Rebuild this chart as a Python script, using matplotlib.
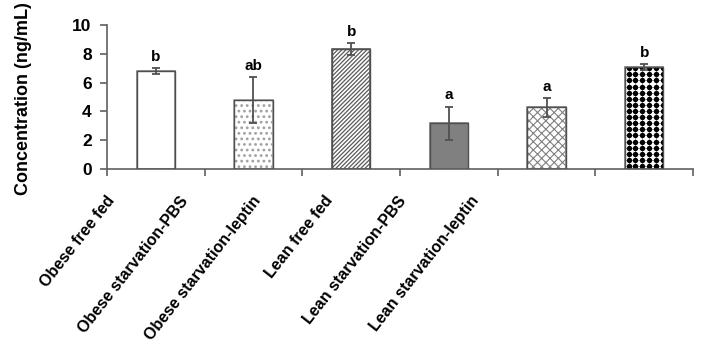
import matplotlib
matplotlib.use("Agg")
import matplotlib.pyplot as plt
import numpy as np

categories = ["Obese free fed", "Obese starvation-PBS", "Obese starvation-leptin",
              "Lean free fed", "Lean starvation-PBS", "Lean starvation-leptin"]
means = [6.83, 4.79, 8.31, 3.17, 4.28, 7.06]
errors = [0.20, 1.60, 0.42, 1.17, 0.67, 0.20]
letters = ["b", "ab", "b", "a", "a", "b"]
yticks = [0, 2, 4, 6, 8, 10]

plt.rcParams['font.family'] = ['Liberation Sans', 'DejaVu Sans']
plt.rcParams['font.weight'] = 'bold'

fig = plt.figure(figsize=(7.02, 3.56), dpi=100)
ax = fig.add_axes([107/702, 1-169/356, (693-107)/702, (169-25)/356])

styles = [
    dict(facecolor='white', edgecolor='#808080', hatch=None, hlw=1.0),
    dict(facecolor='white', edgecolor='#a0a0a0', hatch='...', hlw=1.2),
    dict(facecolor='white', edgecolor='#5a5a5a', hatch='////////', hlw=0.9),
    dict(facecolor='#808080', edgecolor='#808080', hatch=None, hlw=1.0),
    dict(facecolor='white', edgecolor='#808080', hatch='xxxx', hlw=0.8),
    dict(facecolor='white', edgecolor='#808080', hatch=None, hlw=0.5),
]

x = np.arange(len(categories))
width = 0.39
bars = []
for i, (m, st) in enumerate(zip(means, styles)):
    with plt.rc_context({'hatch.linewidth': st['hlw']}):
        b = ax.bar(x[i], m, width, color=st['facecolor'], edgecolor=st['edgecolor'],
                   hatch=st['hatch'], linewidth=1.2, zorder=2)
    for p in b.patches:
        if hasattr(p, 'set_hatch_linewidth'):
            p.set_hatch_linewidth(st['hlw'])
    bars.append(b.patches[0])

# big black dot pattern with faint grid for the last bar (clipped to the bar)
fig.canvas.draw()
p6 = bars[-1]
bx0, by0 = p6.get_x(), p6.get_y()
bw, bh = p6.get_width(), p6.get_height()
(px0, py0) = ax.transData.transform((bx0, by0))
(px1, py1) = ax.transData.transform((bx0 + bw, by0 + bh))
step = 7.0
gx = np.arange(px0 + 3.5, px1, step)
gy = np.arange(py0 + 3.5, py1, step)
inv = ax.transData.inverted()
for yy in gy:
    seg = inv.transform([[px0, yy], [px1, yy]])
    ln, = ax.plot(seg[:, 0], seg[:, 1], color='#909090', lw=0.6, zorder=2.4)
    ln.set_clip_path(p6)
for xx in gx:
    seg = inv.transform([[xx, py0], [xx, py1]])
    ln, = ax.plot(seg[:, 0], seg[:, 1], color='#909090', lw=0.6, zorder=2.4)
    ln.set_clip_path(p6)
GX, GY = np.meshgrid(gx, gy)
pts = inv.transform(np.column_stack([GX.ravel(), GY.ravel()]))
sc = ax.scatter(pts[:, 0], pts[:, 1], s=15, c='black', marker='o', linewidths=0, zorder=2.5)
sc.set_clip_path(p6)

# outline
ax.bar(x, means, width, fill=False, edgecolor='#505050', linewidth=1.0, zorder=3)
ax.errorbar(x, means, yerr=errors, fmt='none', ecolor='#505050', elinewidth=1.3,
            capsize=3, capthick=1.3, zorder=4)
for xi, m, e, l in zip(x, means, errors, letters):
    ax.annotate(l, (xi, m + e), xytext=(0, 3), textcoords='offset points',
                ha='center', va='bottom', fontsize=11, fontweight='bold')

ax.set_xlim(-0.5, len(categories) - 0.5)
ax.set_ylim(0, 10)
ax.set_yticks(yticks)
ax.set_yticklabels([str(t) for t in yticks], fontsize=12.5, fontweight='bold')
ax.set_xticks(np.arange(len(categories) + 1) - 0.5)
ax.set_xticklabels([])
ax.tick_params(axis='both', direction='out', length=5, width=1.2, color='#606060')
ax.tick_params(axis='y', pad=6)
for s in ['top', 'right']:
    ax.spines[s].set_visible(False)
for s in ['left', 'bottom']:
    ax.spines[s].set_color('#606060')
    ax.spines[s].set_linewidth(1.2)

for i, c in enumerate(categories):
    fig.text((112 + 72.8 * i) / 702, 1 - 198 / 356, c, rotation=52, rotation_mode='anchor',
             ha='right', va='center', fontsize=11.5, fontweight='bold')

fig.text(24 / 702, 1 - 99 / 356, "Concentration (ng/mL)", rotation=90, ha='center',
         va='center', fontsize=13, fontweight='bold')

fig.savefig("out.png", dpi=100)
